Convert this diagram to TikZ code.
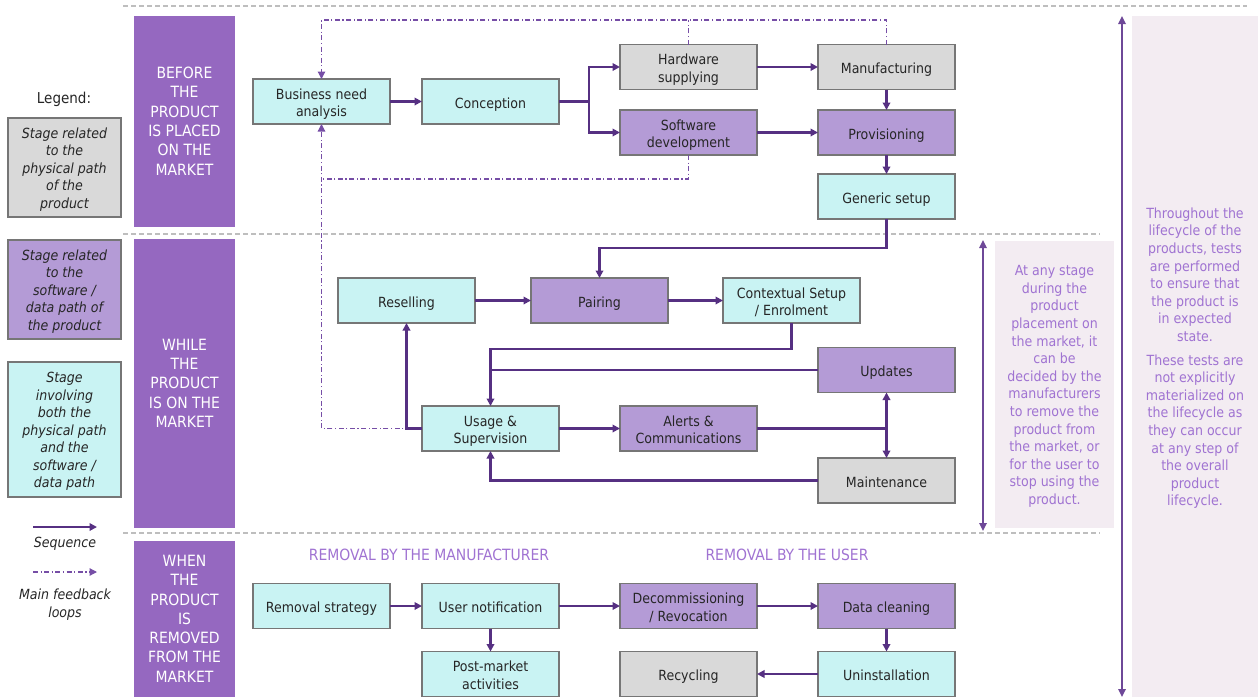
\documentclass[tikz,border=0pt]{standalone}
\usepackage{fontspec}
\setmainfont{DejaVu Sans Condensed}[ItalicFont={DejaVu Sans Condensed Oblique}]
\usetikzlibrary{arrows.meta}

\definecolor{cyanfill}{RGB}{201,243,243}
\definecolor{grayfill}{RGB}{217,217,217}
\definecolor{purplefill}{RGB}{180,155,214}
\definecolor{barc}{RGB}{149,104,192}
\definecolor{boxborder}{RGB}{118,118,118}
\definecolor{boxtext}{RGB}{38,38,38}
\definecolor{arrowc}{RGB}{86,48,130}
\definecolor{fbc}{RGB}{118,78,166}
\definecolor{annotc}{RGB}{160,115,210}
\definecolor{pinkc}{RGB}{243,236,242}
\definecolor{sepc}{RGB}{190,190,190}
\definecolor{dblc}{RGB}{110,72,152}

% centred lines of text, set a little lower than TeX would centre them
\newcommand\tx[2][3pt]{\raisebox{-#1}[\height][\depth]{\begin{tabular}{@{}c@{}}#2\end{tabular}}}

\tikzset{
  stage/.style={draw=boxborder, line width=1.5pt, minimum width=137pt, minimum height=45pt,
    inner sep=2pt, outer sep=0pt, align=center, text=boxtext,
    font=\fontsize{14}{17.5}\selectfont},
  phys/.style={stage, fill=grayfill},
  soft/.style={stage, fill=purplefill},
  both/.style={stage, fill=cyanfill},
  legendbox/.style={draw=boxborder, line width=1.5pt, minimum width=113pt, inner sep=2pt,
    outer sep=0pt, align=center, text=boxtext, font=\fontsize{14}{17.5}\selectfont\itshape},
  phase/.style={fill=barc, text=white, align=center, inner sep=0pt, minimum width=101pt,
    font=\fontsize{15.5}{19.3}\selectfont},
  seqline/.style={draw=arrowc, line width=2.2pt},
  seq/.style={seqline, -{Triangle[length=7.5pt,width=7.5pt]}},
  fb/.style={draw=fbc, line width=1.2pt, dash pattern=on 5pt off 2.5pt on 1.2pt off 2.5pt},
  fbarrow/.style={fb, -{Triangle[length=7.5pt,width=7.5pt]}},
  sepline/.style={draw=sepc, line width=1.3pt, dash pattern=on 5pt off 3pt},
  dbl/.style={draw=dblc, line width=1.6pt, {Triangle[length=8pt,width=7.5pt]}-{Triangle[length=8pt,width=7.5pt]}},
  note/.style={fill=pinkc, inner sep=0pt, align=center, text=annotc,
    font=\fontsize{14}{17.6}\selectfont},
  seclabel/.style={text=annotc, font=\fontsize{15.5}{18}\selectfont, inner sep=0pt},
  plain/.style={text=boxtext, align=center, inner sep=0pt},
}

\begin{document}
\begin{tikzpicture}[x=1pt,y=-1pt]
\path[use as bounding box] (0,0) rectangle (1258,699);

% phase separators
\draw[sepline] (123,6) -- (1247,6);
\draw[sepline] (123,234) -- (1100,234);
\draw[sepline] (123,533) -- (1100,533);

% legend
\node[plain, font=\fontsize{15}{18}\selectfont] (legtitle) at (64,99) {Legend:};
\node[legendbox, fill=grayfill, minimum height=99pt] (lg1) at (64.5,167.5)
  {\tx[2pt]{Stage related\\to the\\physical path\\of the\\product}};
\node[legendbox, fill=purplefill, minimum height=99pt] (lg2) at (64.5,289.5)
  {\tx[2pt]{Stage related\\to the\\software /\\data path of\\the product}};
\node[legendbox, fill=cyanfill, minimum height=135pt] (lg3) at (64.5,429.5)
  {\tx[2pt]{Stage\\involving\\both the\\physical path\\and the\\software /\\data path}};
\coordinate (ls1) at (33,527);
\coordinate (ls2) at (97,527);
\draw[seq] (ls1) -- (ls2);
\node[plain, font=\fontsize{14}{17.5}\selectfont\itshape] (lseq) at (65,544) {Sequence};
\coordinate (lf1) at (33,572);
\coordinate (lf2) at (97,572);
\draw[fbarrow] (lf1) -- (lf2);
\node[plain, font=\fontsize{14}{17.5}\selectfont\itshape] (lfb) at (65,604.5) {Main feedback\\loops};

% phase bars
\node[phase, minimum height=211pt] (ph1) at (184.5,121.5)
  {\tx[1.5pt]{BEFORE\\THE\\PRODUCT\\IS PLACED\\ON THE\\MARKET}};
\node[phase, minimum height=289pt] (ph2) at (184.5,383.5)
  {\tx[1.5pt]{WHILE\\THE\\PRODUCT\\IS ON THE\\MARKET}};
\node[phase, minimum height=156pt] (ph3) at (184.5,619)
  {\tx[1.5pt]{WHEN\\THE\\PRODUCT\\IS\\REMOVED\\FROM THE\\MARKET}};

% stages before placement on the market
\node[both] (bna)   at (321.5,101.5) {\tx{Business need\\analysis}};
\node[both] (conc)  at (490.5,101.5) {\tx{Conception}};
\node[phys] (hw)    at (688.5,67)    {\tx{Hardware\\supplying}};
\node[soft] (sw)    at (688.5,132.5) {\tx{Software\\development}};
\node[phys] (manu)  at (886.5,67)    {\tx{Manufacturing}};
\node[soft] (prov)  at (886.5,132.5) {\tx{Provisioning}};
\node[both] (gen)   at (886.5,196.5) {\tx{Generic setup}};

% stages on the market
\node[both] (resell) at (406.5,300.5) {\tx{Reselling}};
\node[soft] (pair)   at (599.5,300.5) {\tx{Pairing}};
\node[both] (ctx)    at (791.5,300.5) {\tx{Contextual Setup\\/ Enrolment}};
\node[soft] (upd)    at (886.5,370)   {\tx{Updates}};
\node[both] (usage)  at (490.5,428.5) {\tx{Usage \&\\Supervision}};
\node[soft] (alerts) at (688.5,428.5) {\tx{Alerts \&\\Communications}};
\node[phys] (maint)  at (886.5,480.5) {\tx{Maintenance}};

% removal stages
\node[seclabel] (secman) at (429,555) {REMOVAL BY THE MANUFACTURER};
\node[seclabel] (secusr) at (787,555) {REMOVAL BY THE USER};
\node[both] (remstrat) at (321.5,606) {\tx{Removal strategy}};
\node[both] (usernot)  at (490.5,606) {\tx{User notification}};
\node[both] (post)     at (490.5,674) {\tx{Post-market\\activities}};
\node[soft] (decom)    at (688.5,606) {\tx{Decommissioning\\/ Revocation}};
\node[soft] (datacl)   at (886.5,606) {\tx{Data cleaning}};
\node[phys] (recyc)    at (688.5,674) {\tx{Recycling}};
\node[both] (uninst)   at (886.5,674) {\tx{Uninstallation}};

% feedback loops
\coordinate (fbtop) at (886.5,20);
\coordinate (fbmid) at (321.5,179);
\draw[fbarrow] (manu.north) -- (fbtop) -| (bna.north);
\draw[fb] (hw.north) -- (hw.north |- fbtop);
\draw[fb] (sw.south) -- (sw.south |- fbmid) -- (fbmid);
\draw[fbarrow] (usage.west) -| (bna.south);

% sequence, before placement
\coordinate (br) at (589,101.5);
\draw[seqline] (conc.east) -- (br);
\draw[seq] (br) |- (hw.west);
\draw[seq] (br) |- (sw.west);
\draw[seq] (bna) -- (conc);
\draw[seq] (hw) -- (manu);
\draw[seq] (sw) -- (prov);
\draw[seq] (manu) -- (prov);
\draw[seq] (prov) -- (gen);
\draw[seq] (gen.south) -- ++(0,29) -| (pair.north);

% sequence, on the market
\draw[seq] (resell) -- (pair);
\draw[seq] (pair) -- (ctx);
\draw[seq] (ctx.south) -- (ctx.south |- 0,349) -| (usage.north);
\draw[seqline, line width=1.6pt] (upd.west) -- (usage.north |- upd.west);
\draw[seq] (usage.west) -| (resell.south);
\draw[seq] (usage) -- (alerts);
\coordinate (aj) at (upd.south |- alerts.east);
\draw[seqline] (alerts.east) -- (aj);
\draw[seq] (aj) -- (upd.south);
\draw[seq] (aj) -- (maint.north);
\draw[seq] (maint.west) -| (usage.south);

% sequence, removal
\draw[seq] (remstrat) -- (usernot);
\draw[seq] (usernot) -- (decom);
\draw[seq] (usernot) -- (post);
\draw[seq] (decom) -- (datacl);
\draw[seq] (datacl) -- (uninst);
\draw[seq] (uninst) -- (recyc);

% notes on the right
\node[note, minimum width=119pt, minimum height=287pt] (note1) at (1054.5,384.5)
  {\tx[2pt]{At any stage\\during the\\product\\placement on\\the market, it\\can be\\decided by the\\manufacturers\\to remove the\\product from\\the market, or\\for the user to\\stop using the\\product.}};
\node[note, minimum width=126pt, minimum height=681pt] (note2) at (1195,356.5)
  {\tx[2pt]{Throughout the\\lifecycle of the\\products, tests\\are performed\\to ensure that\\the product is\\in expected\\state.\\[6pt]These tests are\\not explicitly\\materialized on\\the lifecycle as\\they can occur\\at any step of\\the overall\\product\\lifecycle.}};
\coordinate (d1a) at (983,240);
\coordinate (d1b) at (983,531);
\draw[dbl] (d1a) -- (d1b);
\coordinate (d2a) at (1122,16);
\coordinate (d2b) at (1122,697);
\draw[dbl] (d2a) -- (d2b);
\end{tikzpicture}
\end{document}
